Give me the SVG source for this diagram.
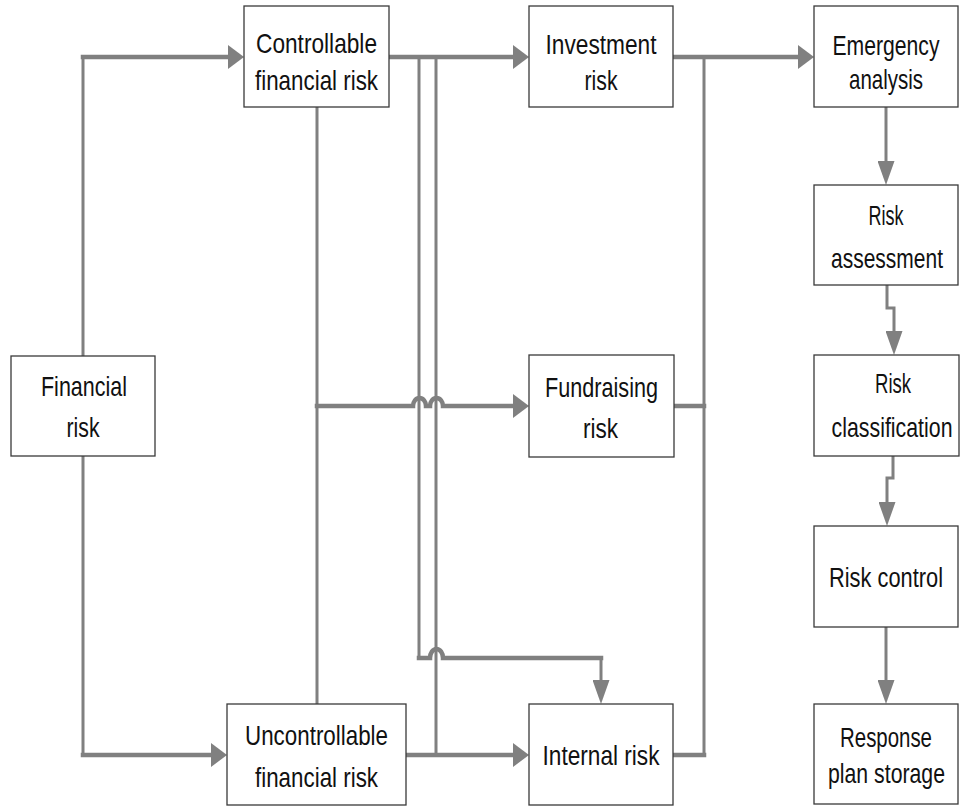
<svg xmlns="http://www.w3.org/2000/svg" width="966" height="807" viewBox="0 0 966 807">
<style>
.box{fill:#fff;stroke:#3a3a3a;stroke-width:1.3}
.t{font-family:"Liberation Sans",Arial,sans-serif;font-size:28.5px;fill:#111;text-anchor:middle}
.h{fill:none;stroke:#808080;stroke-width:4.5;stroke-linecap:square}
.v{fill:none;stroke:#808080;stroke-width:3;stroke-linecap:square}
</style>
<defs>
<marker id="ah" markerUnits="userSpaceOnUse" orient="auto" markerWidth="16" markerHeight="24" refX="0" refY="12" viewBox="0 0 16 24"><path d="M0,0 L16,12 L0,24 Z" fill="#808080"/></marker>
<marker id="av" markerUnits="userSpaceOnUse" orient="auto" markerWidth="24" markerHeight="17" refX="0" refY="8.5" viewBox="0 0 24 17"><path d="M0,0 L24,8.5 L0,17 Z" fill="#808080"/></marker>
</defs>
<rect width="966" height="807" fill="#fff"/>
<g id="connectors">
<g id="c-fin-ctrl"><path class="v" d="M83,356 V57"/><path class="h" d="M83,57 H228" marker-end="url(#ah)"/></g>
<g id="c-fin-unctrl"><path class="v" d="M83,456 V755"/><path class="h" d="M83,755 H211" marker-end="url(#ah)"/></g>
<g id="c-ctrl-inv"><path class="h" d="M389,57 H513" marker-end="url(#ah)"/></g>
<g id="c-inv-emg"><path class="h" d="M673,57 H798" marker-end="url(#ah)"/></g>
<g id="c-trunk"><path class="v" d="M704,57 V755"/><path class="h" d="M674,406 H704"/><path class="h" d="M673,755 H704"/></g>
<g id="c-ctrl-unctrl"><path class="v" d="M317,107 V704"/></g>
<g id="c-fund"><path class="h" d="M317,406 H413 a6.5,8 0 0 1 13,0 H430 a6.5,8 0 0 1 13,0 H513" marker-end="url(#ah)"/></g>
<g id="c-internal-top"><path class="v" d="M419,57 V658"/><path class="h" d="M419,658 H430 a6.5,9 0 0 1 13,0 H601"/><path class="v" d="M601,658 V680" marker-end="url(#av)"/></g>
<g id="c-unctrl-int"><path class="v" d="M436,57 V755"/><path class="h" d="M406,755 H513" marker-end="url(#ah)"/></g>
<g id="c-emg-ass"><path class="v" d="M886,107 V161" marker-end="url(#av)"/></g>
<g id="c-ass-cls"><path class="v" d="M887,285 V308 H894 V331" marker-end="url(#av)"/></g>
<g id="c-cls-ctl"><path class="v" d="M893,456 V478 H887 V502" marker-end="url(#av)"/></g>
<g id="c-ctl-resp"><path class="v" d="M886,627 V680" marker-end="url(#av)"/></g>
</g>
<g id="n-controllable"><rect class="box" x="244" y="6" width="145" height="101"/><text class="t" transform="matrix(0.78,0,0,1,316.5,0)" x="0" y="53" textLength="155.1" lengthAdjust="spacingAndGlyphs">Controllable</text><text class="t" transform="matrix(0.78,0,0,1,316.5,0)" x="0" y="90" textLength="157.7" lengthAdjust="spacingAndGlyphs">financial risk</text></g>
<g id="n-investment"><rect class="box" x="529" y="6" width="144" height="101"/><text class="t" transform="matrix(0.78,0,0,1,601,0)" x="0" y="54" textLength="142.3" lengthAdjust="spacingAndGlyphs">Investment</text><text class="t" transform="matrix(0.78,0,0,1,601,0)" x="0" y="90" textLength="42.3" lengthAdjust="spacingAndGlyphs">risk</text></g>
<g id="n-emergency"><rect class="box" x="814" y="6" width="144" height="101"/><text class="t" transform="matrix(0.78,0,0,1,886,0)" x="0" y="55" textLength="137.2" lengthAdjust="spacingAndGlyphs">Emergency</text><text class="t" transform="matrix(0.78,0,0,1,886,0)" x="0" y="89" textLength="94.9" lengthAdjust="spacingAndGlyphs">analysis</text></g>
<g id="n-assessment"><rect class="box" x="814" y="185" width="144" height="100"/><text class="t" transform="matrix(0.78,0,0,1,886,0)" x="0" y="225" textLength="44.9" lengthAdjust="spacingAndGlyphs">Risk</text><text class="t" transform="matrix(0.78,0,0,1,887,0)" x="0" y="268" textLength="143.6" lengthAdjust="spacingAndGlyphs">assessment</text></g>
<g id="n-classification"><rect class="box" x="814" y="355" width="145" height="101"/><text class="t" transform="matrix(0.78,0,0,1,893,0)" x="0" y="393" textLength="46.2" lengthAdjust="spacingAndGlyphs">Risk</text><text class="t" transform="matrix(0.78,0,0,1,892,0)" x="0" y="437" textLength="155.1" lengthAdjust="spacingAndGlyphs">classification</text></g>
<g id="n-control"><rect class="box" x="814" y="526" width="144" height="101"/><text class="t" transform="matrix(0.78,0,0,1,886,0)" x="0" y="587" textLength="146.2" lengthAdjust="spacingAndGlyphs">Risk control</text></g>
<g id="n-response"><rect class="box" x="814" y="704" width="144" height="100"/><text class="t" transform="matrix(0.78,0,0,1,886,0)" x="0" y="747" textLength="117.9" lengthAdjust="spacingAndGlyphs">Response</text><text class="t" transform="matrix(0.78,0,0,1,886.5,0)" x="0" y="783" textLength="150" lengthAdjust="spacingAndGlyphs">plan storage</text></g>
<g id="n-financial"><rect class="box" x="11" y="356" width="144" height="100"/><text class="t" transform="matrix(0.78,0,0,1,84,0)" x="0" y="396" textLength="110.3" lengthAdjust="spacingAndGlyphs">Financial</text><text class="t" transform="matrix(0.78,0,0,1,83,0)" x="0" y="437" textLength="42.3" lengthAdjust="spacingAndGlyphs">risk</text></g>
<g id="n-uncontrollable"><rect class="box" x="227" y="704" width="179" height="101"/><text class="t" transform="matrix(0.78,0,0,1,316.5,0)" x="0" y="745" textLength="183.3" lengthAdjust="spacingAndGlyphs">Uncontrollable</text><text class="t" transform="matrix(0.78,0,0,1,316.5,0)" x="0" y="787" textLength="157.7" lengthAdjust="spacingAndGlyphs">financial risk</text></g>
<g id="n-fundraising"><rect class="box" x="529" y="355" width="145" height="102"/><text class="t" transform="matrix(0.78,0,0,1,601.5,0)" x="0" y="397" textLength="144.9" lengthAdjust="spacingAndGlyphs">Fundraising</text><text class="t" transform="matrix(0.78,0,0,1,600.5,0)" x="0" y="438" textLength="44.9" lengthAdjust="spacingAndGlyphs">risk</text></g>
<g id="n-internal"><rect class="box" x="529" y="704" width="144" height="101"/><text class="t" transform="matrix(0.78,0,0,1,601,0)" x="0" y="765" textLength="150" lengthAdjust="spacingAndGlyphs">Internal risk</text></g>
</svg>
